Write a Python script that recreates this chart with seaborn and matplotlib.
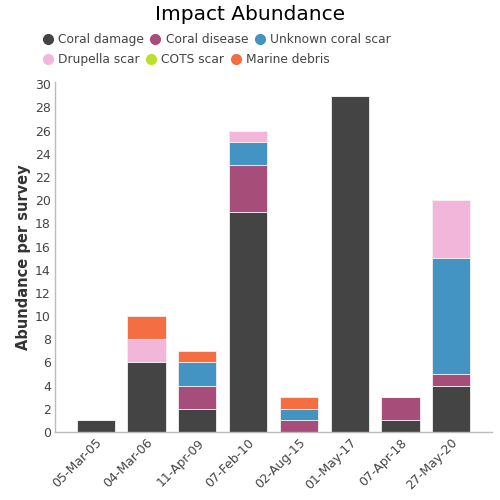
import pandas as pd
import numpy as np
import matplotlib.pyplot as plt
import seaborn as sns
from matplotlib.lines import Line2D

# survey dates and impact counts
dates = ['05-Mar-05', '04-Mar-06', '11-Apr-09', '07-Feb-10',
         '02-Aug-15', '01-May-17', '07-Apr-18', '27-May-20']
coral_damage = [1, 6, 2, 19, 0, 29, 1, 4]
coral_disease = [0, 0, 2, 4, 1, 0, 2, 1]
unknown_scar = [0, 0, 2, 2, 1, 0, 0, 10]
drupella_scar = [0, 2, 0, 1, 0, 0, 0, 5]
cots_scar = [0, 0, 0, 0, 0, 0, 0, 0]
marine_debris = [0, 2, 1, 0, 1, 0, 0, 0]

series = {
    'Coral damage': coral_damage,
    'Coral disease': coral_disease,
    'Unknown coral scar': unknown_scar,
    'Drupella scar': drupella_scar,
    'COTS scar': cots_scar,
    'Marine debris': marine_debris,
}
colors = {
    'Coral damage': '#444444',
    'Coral disease': '#a64d79',
    'Unknown coral scar': '#4393c3',
    'Drupella scar': '#f1b6da',
    'COTS scar': '#b8e12a',
    'Marine debris': '#f46d43',
}

sns.set_theme(style='white')
plt.rcParams['font.family'] = ['DejaVu Sans']

fig = plt.figure(figsize=(5, 5), dpi=100)
ax = fig.add_axes([0.11, 0.136, 0.874, 0.70])

bottom = np.zeros(len(dates))
for name, vals in series.items():
    df = pd.DataFrame({'date': dates, 'value': vals})
    sns.barplot(data=df, x='date', y='value', bottom=bottom, color=colors[name],
                width=0.75, edgecolor='#f0f0f0', linewidth=0.6, ax=ax,
                saturation=1)
    bottom += np.array(vals)

ax.set_xlim(-0.8, 7.8)
ax.set_ylim(0, 30.2)
ax.set_yticks(range(0, 31, 2))
ax.set_xlabel('')
ax.set_ylabel('Abundance per survey', fontsize=10.5, fontweight='bold', color='#333333', labelpad=3)
ax.tick_params(axis='both', labelsize=9, colors='#444444', length=0, pad=3)
plt.setp(ax.get_xticklabels(), rotation=45, ha='right', rotation_mode='anchor')
for s in ['top', 'right']:
    ax.spines[s].set_visible(False)
for s in ['left', 'bottom']:
    ax.spines[s].set_color('#bbbbbb')
    ax.spines[s].set_linewidth(1)

fig.text(0.5, 0.972, 'Impact Abundance', ha='center', va='center', fontsize=14.5, color='black')

names = list(series.keys())
def handles(sub):
    return [Line2D([], [], marker='o', linestyle='', markersize=7,
                   markerfacecolor=colors[n], markeredgecolor=colors[n], label=n) for n in sub]

for row, y in [(names[:3], 0.921), (names[3:], 0.881)]:
    fig.legend(handles=handles(row), loc='center left', bbox_to_anchor=(0.086, y),
               ncol=3, frameon=False, fontsize=8.8, handletextpad=0.45, columnspacing=0.6,
               handlelength=0.75, borderpad=0, borderaxespad=0, labelcolor='#444444')

fig.savefig('out.png', dpi=100)
